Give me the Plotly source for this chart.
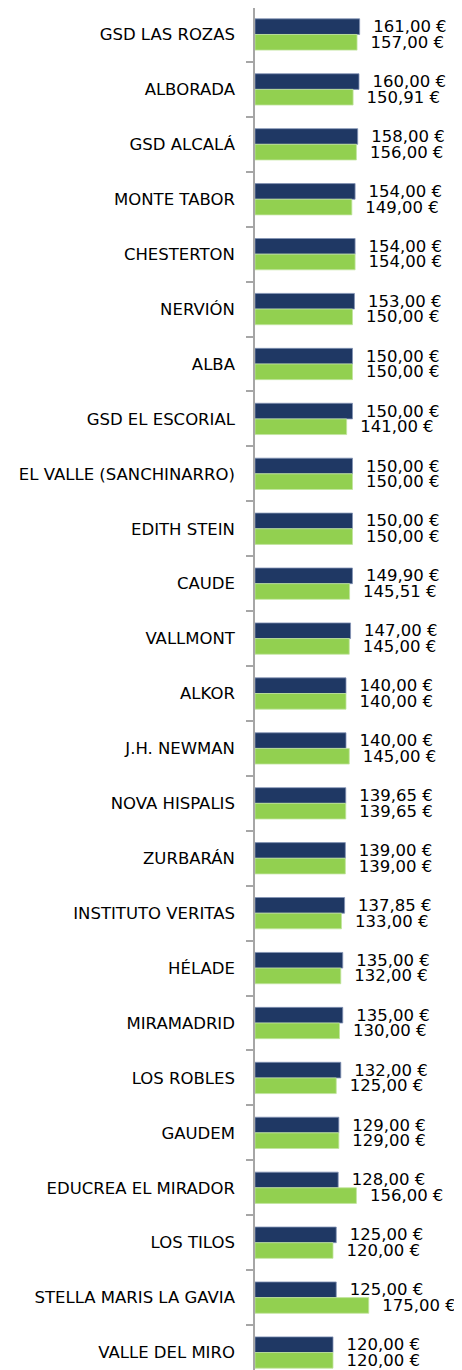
import plotly.graph_objects as go

schools = [
    "GSD LAS ROZAS", "ALBORADA", "GSD ALCALÁ", "MONTE TABOR", "CHESTERTON",
    "NERVIÓN", "ALBA", "GSD EL ESCORIAL", "EL VALLE (SANCHINARRO)", "EDITH STEIN",
    "CAUDE", "VALLMONT", "ALKOR", "J.H. NEWMAN", "NOVA HISPALIS",
    "ZURBARÁN", "INSTITUTO VERITAS", "HÉLADE", "MIRAMADRID", "LOS ROBLES",
    "GAUDEM", "EDUCREA EL MIRADOR", "LOS TILOS", "STELLA MARIS LA GAVIA", "VALLE DEL MIRO",
]
series_a = [161.00, 160.00, 158.00, 154.00, 154.00, 153.00, 150.00, 150.00, 150.00, 150.00,
            149.90, 147.00, 140.00, 140.00, 139.65, 139.00, 137.85, 135.00, 135.00, 132.00,
            129.00, 128.00, 125.00, 125.00, 120.00]
series_b = [157.00, 150.91, 156.00, 149.00, 154.00, 150.00, 150.00, 141.00, 150.00, 150.00,
            145.51, 145.00, 140.00, 145.00, 139.65, 139.00, 133.00, 132.00, 130.00, 125.00,
            129.00, 156.00, 120.00, 175.00, 120.00]


def eur(v):
    return f"{v:.2f}".replace(".", ",") + " €"


FONT = "DejaVu Sans"
fig = go.Figure()
for vals, color, edge in [(series_a, "#1F3864", "#8393B5"), (series_b, "#92D050", "#C2E49E")]:
    fig.add_trace(go.Bar(
        y=schools, x=vals, orientation="h",
        marker=dict(color=color, line=dict(color=edge, width=0.8)),
        text=[eur(v) for v in vals],
        texttemplate="\u00a0\u00a0%{text}",
        textposition="outside", constraintext="none", cliponaxis=False,
        textfont=dict(family=FONT, size=16.5, color="#000000"),
        showlegend=False,
    ))

fig.update_layout(
    width=454, height=1362,
    margin=dict(l=247, r=12, t=0, b=0),
    paper_bgcolor="white", plot_bgcolor="white",
    barmode="group", bargap=0.43, bargroupgap=0,
    xaxis=dict(range=[0, 300], visible=False, fixedrange=True),
    yaxis=dict(
        type="category", range=[24.318, -0.482],
        showline=True, linecolor="#A6A6A6", linewidth=1.5,
        ticks="outside", ticklen=7, tickcolor="#A6A6A6", tickwidth=1.5,
        tickson="boundaries", ticklabelstandoff=15,
        tickfont=dict(family=FONT, size=16.5, color="#000000"),
        showgrid=False, zeroline=False, fixedrange=True,
    ),
)

fig.write_html("out.html", config={"displayModeBar": False})
